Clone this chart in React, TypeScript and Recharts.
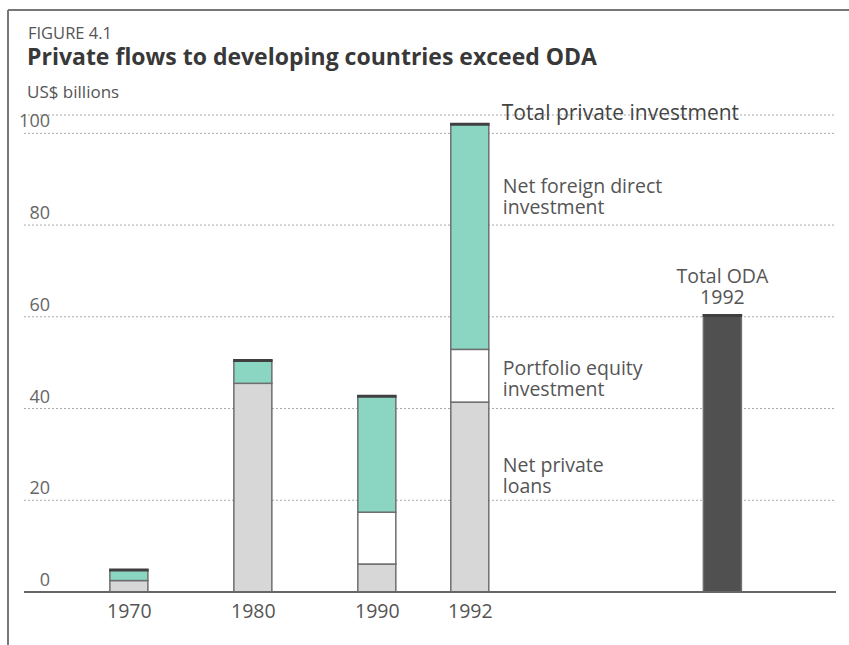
import React from "react";
import { BarChart, Bar, XAxis, YAxis, CartesianGrid, LabelList } from "recharts";

const categories = ["1970", "1980", "1990", "1992", "Total ODA 1992"];
const netPrivateLoans = [2.5, 45.5, 6.1, 41.4, null];
const portfolioEquity = [null, null, 11.3, 11.5, null];
const netForeignDirect = [2.3, 5.0, 25.3, 49.1, null];
const totalODA = [null, null, null, null, 60.3];
const yTicks = [0, 20, 40, 60, 80, 100];

// where each bar sits on the horizontal scale (layout only)
const slots = [0, 4, 8, 11, 19.15];
const yearTicks = slots.slice(0, 4);

const data = categories.map((name, i) => ({
  name,
  pos: slots[i],
  loans: netPrivateLoans[i],
  portfolio: portfolioEquity[i],
  fdi: netForeignDirect[i],
  oda: totalODA[i],
}));

const FONT = "'Open Sans', 'Noto Sans', sans-serif";
const TEAL = "#8ad6c2";
const GREY = "#d7d7d7";
const OUTLINE = "#6e6e6e";

const segment = (fill: string, top: boolean) => (props: any) => {
  const { x, y, width, height } = props;
  if (!height || height <= 0) return null;
  return (
    <g>
      <rect x={x} y={y} width={width} height={height} fill={fill} stroke={OUTLINE} strokeWidth={1.5} />
      {top && <line x1={x - 0.75} x2={x + width + 0.75} y1={y} y2={y} stroke="#3f3f3f" strokeWidth={3} />}
    </g>
  );
};

const box = (props: any) => {
  const vb = props.viewBox || props;
  return { x: Number(vb.x), y: Number(vb.y), width: Number(vb.width), height: Number(vb.height) };
};

// text beside the 1992 bar, first line dy px below the segment top
const sideLabel = (lines: string[], dy: number) => (props: any) => {
  if (props.index !== 3) return null;
  const b = box(props);
  const x = b.x + b.width + 14;
  return (
    <text x={x} y={b.y + dy} fill="#555" fontSize={19.5} fontFamily={FONT}>
      {lines.map((t, i) => (
        <tspan key={t} x={x} dy={i === 0 ? 0 : 21}>
          {t}
        </tspan>
      ))}
    </text>
  );
};

const totalLabel = (props: any) => {
  if (props.index !== 3) return null;
  const b = box(props);
  return (
    <text x={b.x + b.width + 13} y={b.y - 4} fill="#444" fontSize={21} fontFamily={FONT}>
      Total private investment
    </text>
  );
};

const odaLabel = (props: any) => {
  if (props.index !== 4) return null;
  const b = box(props);
  const cx = b.x + b.width / 2;
  return (
    <text x={cx} y={b.y - 32} fill="#555" fontSize={19.5} fontFamily={FONT} textAnchor="middle">
      <tspan x={cx}>Total ODA</tspan>
      <tspan x={cx} dy={21}>1992</tspan>
    </text>
  );
};

const YTick = (props: any) => {
  const { y, payload } = props;
  return (
    <text x={50} y={y - 6} textAnchor="end" fill="#666" fontSize={18} fontFamily={FONT}>
      {payload.value}
    </text>
  );
};

export default function App() {
  return (
    <div style={{ position: "absolute", left: 0, top: 0, width: 849, height: 645, background: "#fff" }}>
      <svg width={849} height={645} style={{ position: "absolute", left: 0, top: 0 }}>
        <line x1={8} x2={849} y1={10} y2={10} stroke="#777" strokeWidth={2} />
        <line x1={8} x2={8} y1={10} y2={645} stroke="#777" strokeWidth={2} />
        <text x={28} y={39} fill="#555" fontSize={16.5} fontFamily={FONT}>FIGURE 4.1</text>
        <text x={27} y={65} fill="#383838" fontSize={23} fontWeight={700} fontFamily={FONT}>
          Private flows to developing countries exceed ODA
        </text>
        <text x={27} y={98} fill="#555" fontSize={17} fontFamily={FONT}>US$ billions</text>
      </svg>
      <div style={{ position: "absolute", left: 0, top: 0 }}>
        <BarChart width={849} height={645} data={data} margin={{ top: 115, right: 13, bottom: 23, left: 0 }}>
          <CartesianGrid vertical={false} stroke="#a8a8a8" strokeDasharray="2 2" />
          <XAxis
            type="number"
            dataKey="pos"
            height={30}
            domain={[-3.4, 22.8]}
            ticks={yearTicks}
            tickFormatter={(v: number) => categories[slots.indexOf(v)]}
            axisLine={{ stroke: "#666", strokeWidth: 2 }}
            tickLine={false}
            tickMargin={6}
            tick={{ fill: "#555", fontSize: 19.5, fontFamily: FONT }}
            allowDataOverflow
          />
          <YAxis
            width={24}
            domain={[0, 104]}
            ticks={yTicks}
            interval={0}
            axisLine={false}
            tickLine={false}
            tick={(p: any) => <YTick {...p} />}
          />
          <Bar dataKey="loans" stackId="s" barSize={38} isAnimationActive={false} shape={segment(GREY, false)}>
            <LabelList content={sideLabel(["Net private", "loans"], 70)} />
          </Bar>
          <Bar dataKey="portfolio" stackId="s" barSize={38} isAnimationActive={false} shape={segment("#fff", false)}>
            <LabelList content={sideLabel(["Portfolio equity", "investment"], 26)} />
          </Bar>
          <Bar dataKey="fdi" stackId="s" barSize={38} isAnimationActive={false} shape={segment(TEAL, true)}>
            <LabelList content={sideLabel(["Net foreign direct", "investment"], 69)} />
            <LabelList content={totalLabel} />
          </Bar>
          <Bar dataKey="oda" stackId="s" barSize={38} isAnimationActive={false} shape={segment("#505050", true)}>
            <LabelList content={odaLabel} />
          </Bar>
        </BarChart>
      </div>
    </div>
  );
}
